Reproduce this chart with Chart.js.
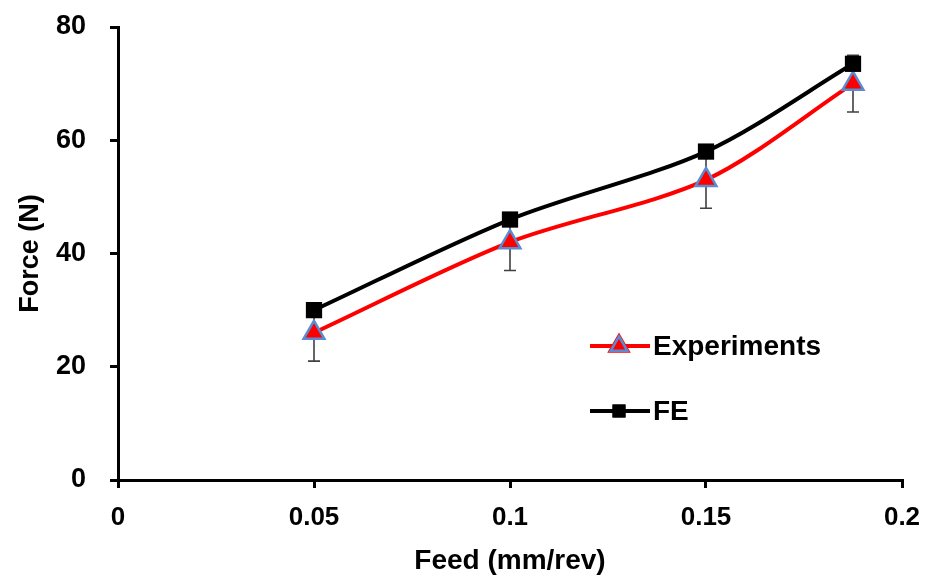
<!DOCTYPE html>
<html>
<head>
<meta charset="utf-8">
<script src="https://cdn.jsdelivr.net/npm/chart.js@4/dist/chart.umd.min.js"></script>
<style>
  html, body { margin: 0; padding: 0; background: #fff; }
  #wrap { width: 925px; height: 578px; }
</style>
</head>
<body>
<div id="wrap"><canvas id="myChart" width="925" height="578"></canvas></div>
<script>
// values
const feed = [0.05, 0.1, 0.15, 0.1875];
const experiments = [26, 42, 53, 70];
const expError = [5, 5, 5, 5];
const fe = [30, 46, 58, 73.5];
const xTickLabels = ["0", "0.05", "0.1", "0.15", "0.2"];
const yTickLabels = ["0", "20", "40", "60", "80"];
const seriesNames = ["Experiments", "FE"];

const FONT = "'Liberation Sans', Arial, sans-serif";

// error bars under the markers
const errorBars = {
  id: "errorBars",
  beforeDatasetsDraw(chart) {
    const { ctx, scales } = chart;
    ctx.save();
    ctx.strokeStyle = "#404040";
    ctx.lineWidth = 1.6;
    feed.forEach((f, i) => {
      const x = scales.x.getPixelForValue(f);
      const yTop = scales.y.getPixelForValue(experiments[i] + expError[i]);
      const yBot = scales.y.getPixelForValue(experiments[i] - expError[i]);
      ctx.beginPath();
      ctx.moveTo(x, yTop); ctx.lineTo(x, yBot);
      ctx.moveTo(x - 6, yTop); ctx.lineTo(x + 6, yTop);
      ctx.moveTo(x - 6, yBot); ctx.lineTo(x + 6, yBot);
      ctx.stroke();
    });
    ctx.restore();
  }
};

// legend placed inside the plot, like the original
const insideLegend = {
  id: "insideLegend",
  afterDraw(chart) {
    const { ctx } = chart;
    const rows = [346, 411];
    ctx.save();
    chart.data.datasets.forEach((ds, i) => {
      const y = rows[i];
      ctx.strokeStyle = ds.borderColor;
      ctx.lineWidth = 4;
      ctx.beginPath();
      ctx.moveTo(590, y); ctx.lineTo(650, y);
      ctx.stroke();
      Chart.helpers.drawPoint(ctx, {
        pointStyle: ds.pointStyle,
        radius: ds.pointRadius * 0.8,
        borderWidth: ds.pointBorderWidth
      }, 619, y);
      ctx.fillStyle = ds.pointBackgroundColor;
      ctx.strokeStyle = ds.pointBorderColor;
      ctx.lineWidth = ds.pointBorderWidth;
      ctx.fill();
      if (ds.pointBorderWidth) ctx.stroke();
      ctx.fillStyle = "#000";
      ctx.font = "bold 28px " + FONT;
      ctx.textBaseline = "middle";
      ctx.fillText(ds.label, 653, y + 1);
    });
    ctx.restore();
  }
};

new Chart("myChart", {
  type: "line",
  data: {
    datasets: [
      {
        label: seriesNames[0],
        data: feed.map((f, i) => ({ x: f, y: experiments[i] })),
        borderColor: "#ff0000",
        borderWidth: 4,
        tension: 0.3,
        pointStyle: "triangle",
        pointRadius: 12,
        pointBackgroundColor: "#ff0000",
        pointBorderColor: "#5b8bd0",
        pointBorderWidth: 2.5,
        order: 2
      },
      {
        label: seriesNames[1],
        data: feed.map((f, i) => ({ x: f, y: fe[i] })),
        borderColor: "#000000",
        borderWidth: 4,
        tension: 0.3,
        pointStyle: "rect",
        pointRadius: 11.5,
        pointBackgroundColor: "#000000",
        pointBorderColor: "#000000",
        pointBorderWidth: 0,
        order: 1
      }
    ]
  },
  options: {
    responsive: false,
    animation: false,
    layout: { padding: { top: 27, right: 23, left: 0, bottom: 0 } },
    plugins: { legend: { display: false }, tooltip: { enabled: false } },
    scales: {
      x: {
        type: "linear",
        min: 0, max: 0.2,
        afterFit: (s) => { s.height = 98; s.paddingLeft = 0; s.paddingRight = 0; },
        afterBuildTicks: (s) => { s.ticks = xTickLabels.map((t) => ({ value: parseFloat(t) })); },
        ticks: {
          callback: (v, i) => xTickLabels[i],
          color: "#000",
          font: { family: FONT, size: 26, weight: "bold" },
          padding: 14,
          maxRotation: 0
        },
        grid: { drawOnChartArea: false, drawTicks: true, tickLength: 8, color: "#000", lineWidth: 3 },
        border: { display: true, color: "#000", width: 3 },
        title: {
          display: true,
          text: "Feed (mm/rev)",
          color: "#000",
          font: { family: FONT, size: 28, weight: "bold" },
          padding: { top: 0, bottom: 0 }
        }
      },
      y: {
        min: 0, max: 80,
        afterFit: (s) => { s.width = 118; s.paddingTop = 0; s.paddingBottom = 0; },
        afterBuildTicks: (s) => { s.ticks = yTickLabels.map((t) => ({ value: parseFloat(t) })); },
        ticks: {
          callback: (v, i) => yTickLabels[i],
          color: "#000",
          font: { family: FONT, size: 27, weight: "bold" },
          padding: 24
        },
        grid: { drawOnChartArea: false, drawTicks: true, tickLength: 8, color: "#000", lineWidth: 3 },
        border: { display: true, color: "#000", width: 3 },
        title: {
          display: true,
          text: "Force (N)",
          color: "#000",
          font: { family: FONT, size: 27, weight: "bold" },
          padding: { top: 14, bottom: 0 }
        }
      }
    }
  },
  plugins: [errorBars, insideLegend]
});
</script>
</body>
</html>
